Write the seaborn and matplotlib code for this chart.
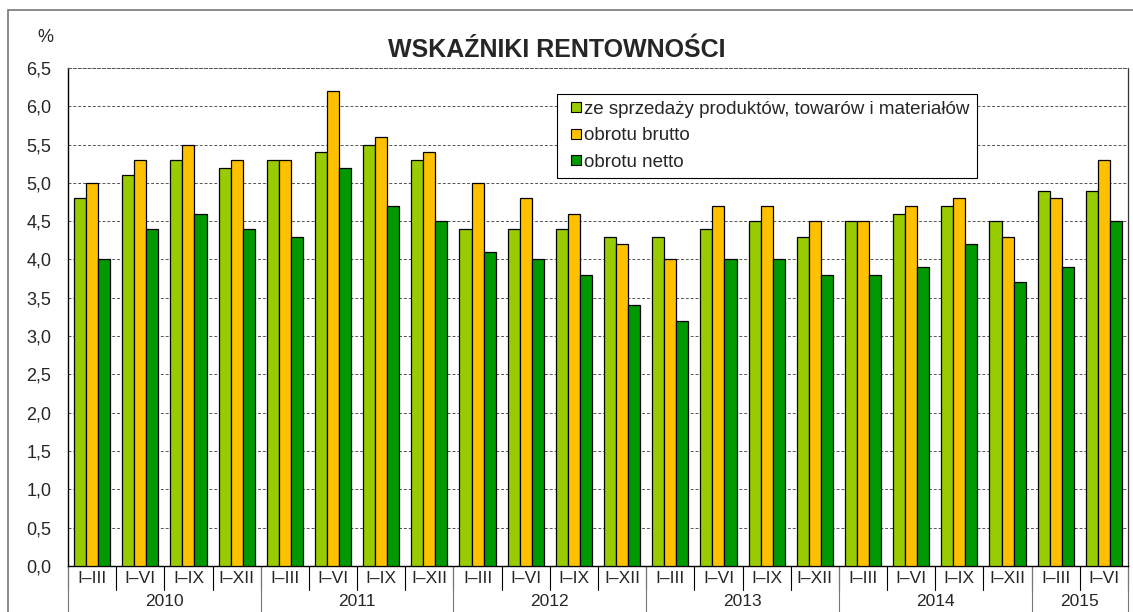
import pandas as pd
import matplotlib.pyplot as plt
import seaborn as sns
from matplotlib.lines import Line2D
from matplotlib.patches import Rectangle
from matplotlib.ticker import FuncFormatter

sns.set_style('white')
plt.rcParams['font.family'] = ['Liberation Sans', 'DejaVu Sans']

years = ['2010', '2011', '2012', '2013', '2014', '2015']
periods = ['I–III', 'I–VI', 'I–IX', 'I–XII']
n_periods = [4, 4, 4, 4, 4, 2]

sprzedaz = [4.8, 5.1, 5.3, 5.2, 5.3, 5.4, 5.5, 5.3, 4.4, 4.4, 4.4, 4.3,
            4.3, 4.4, 4.5, 4.3, 4.5, 4.6, 4.7, 4.5, 4.9, 4.9]
brutto = [5.0, 5.3, 5.5, 5.3, 5.3, 6.2, 5.6, 5.4, 5.0, 4.8, 4.6, 4.2,
          4.0, 4.7, 4.7, 4.5, 4.5, 4.7, 4.8, 4.3, 4.8, 5.3]
netto = [4.0, 4.4, 4.6, 4.4, 4.3, 5.2, 4.7, 4.5, 4.1, 4.0, 3.8, 3.4,
         3.2, 4.0, 4.0, 3.8, 3.8, 3.9, 4.2, 3.7, 3.9, 4.5]

series = ['ze sprzedaży produktów, towarów i materiałów', 'obrotu brutto', 'obrotu netto']
colors = ['#99CC00', '#FFC000', '#009900']

# build long table
keys, short = [], []
for y, n in zip(years, n_periods):
    for p in periods[:n]:
        keys.append(y + ' ' + p)
        short.append(p)

rows = []
for name, vals in zip(series, [sprzedaz, brutto, netto]):
    for k, v in zip(keys, vals):
        rows.append({'okres': k, 'wskaznik': name, 'wartosc': v})
df = pd.DataFrame(rows)

fig = plt.figure(figsize=(11.33, 6.12), dpi=100)
ax = fig.add_axes([0.060, 0.0752, 0.9356, 0.8138])

sns.barplot(data=df, x='okres', y='wartosc', hue='wskaznik', order=keys,
            hue_order=series, palette=colors, saturation=1, edgecolor='black',
            linewidth=0.9, width=0.75, errorbar=None, ax=ax, zorder=3,
            legend=False)

ax.set_ylim(0, 6.5)
ax.set_xlim(-0.5, len(keys) - 0.5)
ax.set_yticks([i * 0.5 for i in range(14)])
ax.yaxis.set_major_formatter(FuncFormatter(lambda v, p: f'{v:.1f}'.replace('.', ',')))
ax.tick_params(axis='y', labelsize=13, length=0, pad=12, left=True)
ax.grid(axis='y', color='#555555', linestyle=(0, (3, 2)), linewidth=0.7, zorder=0)
ax.set_xlabel('')
ax.set_ylabel('')
ax.set_xticks([])

for s in ['left', 'bottom']:
    ax.spines[s].set_color('black')
    ax.spines[s].set_linewidth(1.0)
ax.spines['top'].set_color('#555555')
ax.spines['top'].set_linewidth(0.7)
ax.spines['top'].set_linestyle((0, (3, 2)))
ax.spines['right'].set_color('#333333')
ax.spines['right'].set_linewidth(0.9)

# hierarchical x axis
trans = ax.get_xaxis_transform()
for i, p in enumerate(short):
    ax.text(i, -0.011, p, transform=trans, ha='center', va='top', fontsize=12.5)
for i in range(len(keys) + 1):
    ax.plot([i - 0.5, i - 0.5], [0, -0.048], transform=trans, color='black',
            linewidth=0.8, clip_on=False)
start = 0
for y, n in zip(years, n_periods):
    ax.text(start + n / 2 - 0.5, -0.056, y, transform=trans, ha='center',
            va='top', fontsize=12.5)
    ax.plot([start - 0.5, start - 0.5], [0, -0.095], transform=trans,
            color='#777777', linewidth=0.8, clip_on=False)
    start += n
ax.plot([start - 0.5, start - 0.5], [0, -0.095], transform=trans,
        color='#777777', linewidth=0.8, clip_on=False)

handles = [Line2D([], [], marker='s', linestyle='', markersize=7.5,
                  markerfacecolor=c, markeredgecolor='black', markeredgewidth=0.8)
           for c in colors]
leg = ax.legend(handles, series, loc='upper left', bbox_to_anchor=(0.461, 0.948),
                fontsize=13.5, frameon=True, fancybox=False, edgecolor='black',
                framealpha=1, handlelength=1.28, handletextpad=-0.17,
                labelspacing=0.5, borderpad=0.37, borderaxespad=0)
leg.get_frame().set_linewidth(0.8)

fig.text(0.491, 0.9175, 'WSKAŹNIKI RENTOWNOŚCI', ha='center', va='center',
         fontsize=18, fontweight='bold')
fig.text(0.040, 0.938, '%', ha='center', va='center', fontsize=13)

fig.add_artist(Rectangle((8 / 1133, -0.01), 1.1, 1 - 10 / 612 + 0.01,
                         transform=fig.transFigure, fill=False,
                         edgecolor='#777777', linewidth=1.2))

fig.savefig('out.png', dpi=100)
